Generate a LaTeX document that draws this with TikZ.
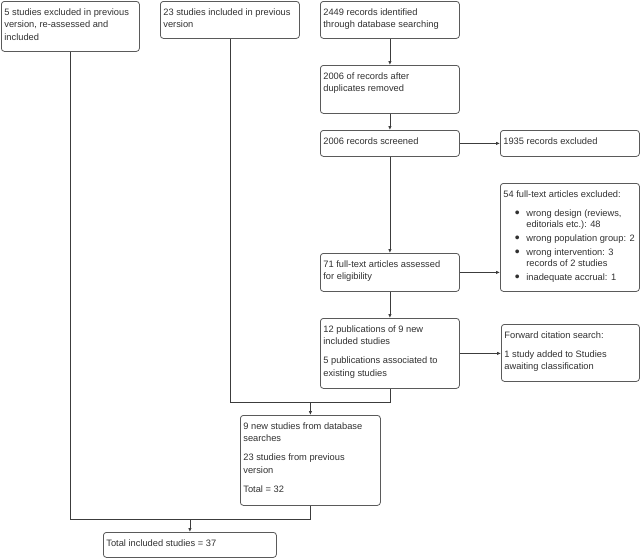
\documentclass[tikz,border=0pt]{standalone}
\usepackage{fontspec}
\setmainfont{Liberation Sans}
\usetikzlibrary{arrows.meta}
\definecolor{edgex}{HTML}{5A5A5A}
\definecolor{linex}{HTML}{3C3C3C}
\definecolor{textx}{HTML}{303030}
\newcommand{\bt}[3]{\parbox[t][\dimexpr#2pt-10pt\relax][t]{\dimexpr#1pt-6pt\relax}{\raggedright\setlength{\parskip}{6.5pt}\strut#3}}
\newcommand{\itm}{\par\hangindent=23pt\hspace*{11.5pt}\makebox[11.5pt][l]{\raisebox{-1.2pt}{\scalebox{1.5}{\textbullet}}}}
\tikzset{
  bx/.style={draw=edgex,line width=0.8pt,rounded corners=3pt,anchor=north west,inner xsep=3pt,inner ysep=5pt,text=textx,font=\fontsize{9.3}{12.5}\selectfont},
  ln/.style={draw=linex,line width=0.8pt},
  ar/.style={ln,-{Latex[length=4pt,width=3.5pt]}}
}
\begin{document}
\begin{tikzpicture}[x=1pt,y=-1pt]
\useasboundingbox (0,0) rectangle (641,558);
\node[bx] (prevex) at (1,1) {\bt{138}{50}{5 studies excluded in previous\\ version, re-assessed and\\ included}};
\node[bx] (previn) at (160,1) {\bt{139}{37}{23 studies included in previous\\ version}};
\node[bx] (ident) at (320,1) {\bt{139}{37}{2449 records identified\\ through database searching}};
\node[bx] (dedup) at (320,65) {\bt{139}{48}{2006 of records after\\ duplicates removed}};
\node[bx] (screen) at (320,130) {\bt{139}{26}{2006 records screened}};
\node[bx] (excl) at (500,130) {\bt{139}{26}{1935 records excluded}};
\node[bx] (ftexcl) at (500,183) {\bt{139}{108}{54 full-text articles excluded:\par\vspace{5.5pt}\fontsize{9.3}{11.3}\selectfont\setlength{\parskip}{2.5pt}%
  \itm wrong design (reviews,\newline editorials etc.): 48\itm wrong population group: 2\itm wrong intervention: 3\newline records of 2 studies\itm inadequate accrual: 1}};
\node[bx] (ftass) at (320,253) {\bt{139}{38}{71 full-text articles assessed\\ for eligibility}};
\node[bx] (pubs) at (320,318) {\bt{139}{70}{12 publications of 9 new\\ included studies\par 5 publications associated to\\ existing studies}};
\node[bx] (fwd) at (501,324) {\bt{138}{57}{Forward citation search:\par 1 study added to Studies\\ awaiting classification}};
\node[bx] (newst) at (240,415) {\bt{140}{90}{9 new studies from database\\ searches\par 23 studies from previous\\ version\par Total = 32}};
\node[bx] (total) at (103,532) {\bt{173}{25}{Total included studies = 37}};
\foreach \a/\b in {ident/dedup,dedup/screen,screen/ftass,ftass/pubs}{\draw[ar] (\a) -- (\b);}
\draw[ar] (screen) -- (excl);
\draw[ar] (ftass.east) -- (ftass.east -| ftexcl.west);
\draw[ar] (pubs.east) -- (pubs.east -| fwd.west);
\coordinate (mid) at ([yshift=13pt]newst.north);
\coordinate (bot) at ([yshift=13pt]total.north);
\draw[ln] (previn.south) |- (pubs.south |- mid) -- (pubs.south);
\draw[ar] (mid) -- (newst.north);
\draw[ln] (prevex.south) |- (newst.south |- bot) -- (newst.south);
\draw[ar] (bot) -- (total.north);
\end{tikzpicture}
\end{document}
